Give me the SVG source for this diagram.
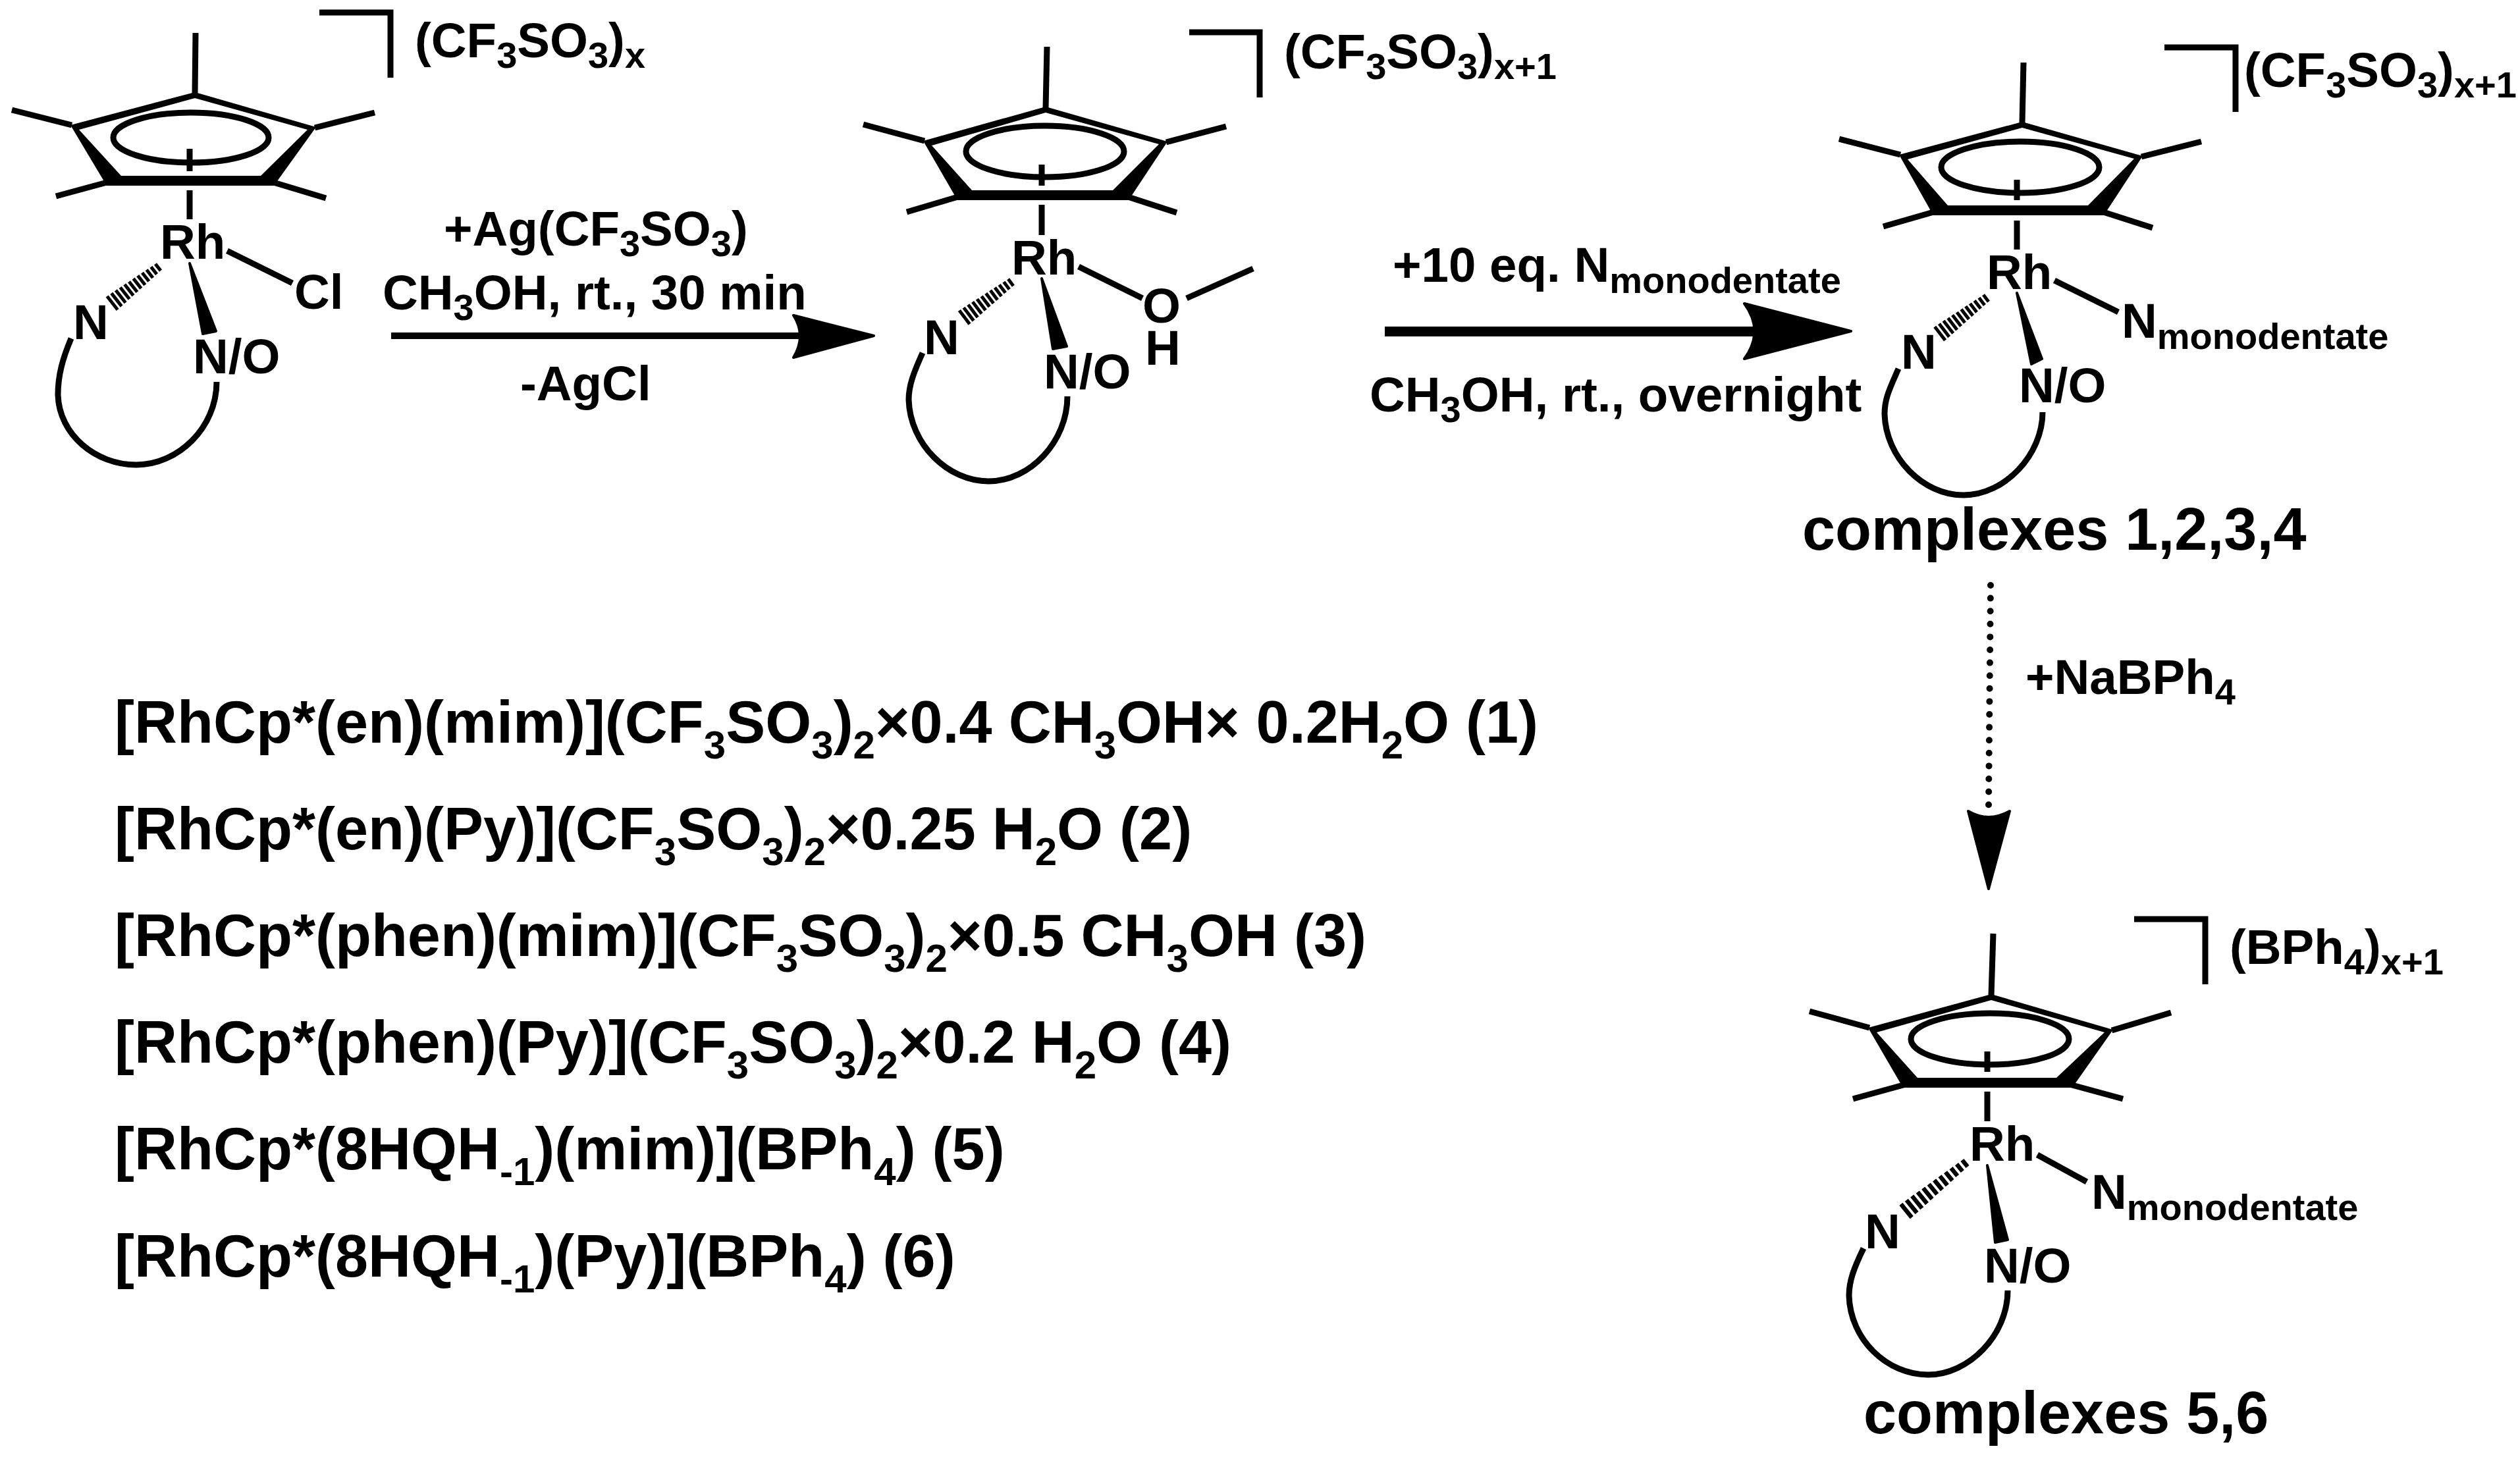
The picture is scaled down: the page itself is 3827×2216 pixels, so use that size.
<svg xmlns="http://www.w3.org/2000/svg" xmlns:xlink="http://www.w3.org/1999/xlink" width="3827" height="2216" viewBox="0 0 3827 2216">
<style>
text{font-family:"Liberation Sans",Arial,sans-serif;font-weight:700;font-size:74.500px;fill:#000}
.l{font-size:90px}
.s{font-size:56px}
.t{font-size:60px}
.b{fill:none;stroke:#000;stroke-width:9}
.r{fill:#000;fill-rule:evenodd;stroke:none}
.e{fill:none;stroke:#000;stroke-width:9}
.f{fill:#000;stroke:#000;stroke-width:4;stroke-linejoin:round}
.h{fill:none;stroke:#000;stroke-width:5}
</style>
<defs>
<path id="hash" class="h" d="M0-6.500V6.500M8-7V7M16-7.700V7.700M24-8.300V8.300M32-9V9M40-9.500V9.500M48-10V10M56-10.700V10.700M64-11.300V11.300M72-12V12M80-12.500V12.500M88-13V13"/>
</defs>
<rect width="3827" height="2216" fill="#fff"/>
<g id="complex-chloride">
<path class="r" d="M296 140L480 193L416 282L162 282L107 190ZM296 149L467 197L396 267L184 267L120 197Z"/>
<path class="b" d="M297 50L296 142M109 190L18 167M478 194L569 171M166 276L85 298M412 276L495 301M288 226V260M288 289V333M345 381L444 430"/>
<ellipse class="e" cx="290" cy="209" rx="118" ry="38"/>
<path class="b" d="M485 19H593V118"/>
<use xlink:href="#hash" href="#hash" transform="translate(240 406) rotate(142)"/>
<polygon class="f" points="288,400 328,503 308,507"/>
<path class="b" d="M108 514C95 545 88 570 88 600C90 660 145 706 207 706C270 706 329 650 329 580"/>
<text x="243" y="393">Rh</text><text x="447" y="469">Cl</text><text x="111" y="515">N</text><text x="293" y="567">N/O</text>
<text x="630" y="87">(CF<tspan class="s" dy="16">3</tspan><tspan dy="-16">SO</tspan><tspan class="s" dy="16">3</tspan><tspan dy="-16">)</tspan><tspan class="s" dy="16">x</tspan></text>
</g>
<g id="complex-methanol">
<path class="r" d="M1588 162L1773 215L1714 304L1454 304L1402 214ZM1588 171L1760 219L1690 289L1476 289L1415 221Z"/>
<path class="b" d="M1590 71L1588 164M1404 214L1311 189M1771 216L1862 192M1458 298L1377 322M1710 298L1787 323M1582 250V282M1582 311V357M1638 405L1735 453M1802 453L1903 408"/>
<ellipse class="e" cx="1587" cy="230" rx="120" ry="39"/>
<path class="b" d="M1806 49H1913V148"/>
<use xlink:href="#hash" href="#hash" transform="translate(1535 429) rotate(143)"/>
<polygon class="f" points="1582,423 1620,526 1599,530"/>
<path class="b" d="M1401 536C1388 565 1380 585 1380 607C1382 675 1440 731 1501 731C1565 731 1621 670 1621 602"/>
<text x="1536" y="417">Rh</text><text x="1735" y="490">O</text><text x="1739" y="554">H</text><text x="1403" y="538">N</text><text x="1585" y="590">N/O</text>
<text x="1950" y="104">(CF<tspan class="s" dy="16">3</tspan><tspan dy="-16">SO</tspan><tspan class="s" dy="16">3</tspan><tspan dy="-16">)</tspan><tspan class="s" dy="16">x+1</tspan></text>
</g>
<g id="complexes-1-4">
<path class="r" d="M3071 185L3254 237L3195 327L2936 327L2884 235ZM3071 194L3241 241L3171 312L2958 312L2897 242Z"/>
<path class="b" d="M3073 95L3071 187M2886 235L2793 211M3252 238L3343 215M2940 321L2860 344M3191 321L3269 346M3063 273V304M3063 335V379M3120 426L3217 474"/>
<ellipse class="e" cx="3068" cy="254" rx="120" ry="39"/>
<path class="b" d="M3287 72H3395V170"/>
<use xlink:href="#hash" href="#hash" transform="translate(3016 453) rotate(142.500)"/>
<polygon class="f" points="3063,445 3101,545 3085,553"/>
<path class="b" d="M2883 560C2870 590 2862 605 2862 629C2864 695 2920 752 2982 752C3045 752 3102 690 3102 626"/>
<text x="3017" y="439">Rh</text><text x="2887" y="560">N</text><text x="3066" y="611">N/O</text>
<text x="3222" y="513">N<tspan class="s" dy="17">monodentate</tspan></text>
<text x="3408" y="132">(CF<tspan class="s" dy="16">3</tspan><tspan dy="-16">SO</tspan><tspan class="s" dy="16">3</tspan><tspan dy="-16">)</tspan><tspan class="s" dy="16">x+1</tspan></text>
<text class="l" x="2737" y="835">complexes 1,2,3,4</text>
</g>
<g id="complexes-5-6">
<path class="r" d="M3024 1510L3209 1564L3147 1652L2890 1652L2837 1561ZM3024 1519L3196 1568L3123 1637L2912 1637L2850 1568Z"/>
<path class="b" d="M3027 1418L3024 1512M2839 1561L2748 1536M3207 1565L3297 1538M2894 1647L2814 1669M3143 1647L3224 1669M3018 1597V1628M3018 1658V1703M3094 1754L3169 1795"/>
<ellipse class="e" cx="3022" cy="1578" rx="120" ry="39"/>
<path class="b" d="M3241 1396H3349V1495"/>
<use xlink:href="#hash" href="#hash" transform="translate(2984 1767) rotate(141) scale(1.300 1)"/>
<polygon class="f" points="3018,1770 3049,1883 3030,1887"/>
<path class="b" d="M2830 1896C2816 1925 2808 1945 2808 1968C2810 2035 2866 2088 2928 2088C2990 2088 3049 2028 3049 1960"/>
<text x="2991" y="1763">Rh</text><text x="2832" y="1896">N</text><text x="3013" y="1948">N/O</text>
<text x="3176" y="1836">N<tspan class="s" dy="17">monodentate</tspan></text>
<text x="3386" y="1464">(BPh<tspan class="s" dy="16">4</tspan><tspan dy="-16">)</tspan><tspan class="s" dy="16">x+1</tspan></text>
<text class="l" x="2830" y="2177">complexes 5,6</text>
</g>
<g id="connectors">
<path d="M594 510H1220" fill="none" stroke="#000" stroke-width="10"/>
<path class="f" d="M1205 479L1327 510L1205 543Q1225 510 1205 479Z"/>
<path d="M2103 503.500H2670" fill="none" stroke="#000" stroke-width="15"/>
<path class="f" d="M2649 461L2811 503L2649 545Q2680 503 2649 461Z"/>
<path d="M3023 889L3020 1224" fill="none" stroke="#000" stroke-width="10" stroke-linecap="round" stroke-dasharray="0 19.600"/>
<path class="f" d="M2989 1232Q3020 1250 3052 1232L3020 1350Z"/>
</g>
<g id="reagents">
<text x="674" y="373">+Ag(CF<tspan class="s" dy="16">3</tspan><tspan dy="-16">SO</tspan><tspan class="s" dy="16">3</tspan><tspan dy="-16">)</tspan></text>
<text x="581" y="470">CH<tspan class="s" dy="16">3</tspan><tspan dy="-16">OH, rt., 30 min</tspan></text>
<text x="790" y="608">-AgCl</text>
<text x="2115" y="428">+10 eq. N<tspan class="s" dy="17">monodentate</tspan></text>
<text x="2080" y="625">CH<tspan class="s" dy="16">3</tspan><tspan dy="-16">OH, rt., overnight</tspan></text>
<text x="3076" y="1054">+NaBPh<tspan class="s" dy="16">4</tspan></text>
</g>
<g id="compound-list">
<text class="l" x="174" y="1128">[RhCp*(en)(mim)](CF<tspan class="t" dy="24">3</tspan><tspan dy="-24">SO</tspan><tspan class="t" dy="24">3</tspan><tspan dy="-24">)</tspan><tspan class="t" dy="24">2</tspan><tspan dy="-24">×0.4 CH</tspan><tspan class="t" dy="24">3</tspan><tspan dy="-24">OH× 0.2H</tspan><tspan class="t" dy="24">2</tspan><tspan dy="-24">O (1)</tspan></text>
<text class="l" x="174" y="1290">[RhCp*(en)(Py)](CF<tspan class="t" dy="24">3</tspan><tspan dy="-24">SO</tspan><tspan class="t" dy="24">3</tspan><tspan dy="-24">)</tspan><tspan class="t" dy="24">2</tspan><tspan dy="-24">×0.25 H</tspan><tspan class="t" dy="24">2</tspan><tspan dy="-24">O (2)</tspan></text>
<text class="l" x="174" y="1452">[RhCp*(phen)(mim)](CF<tspan class="t" dy="24">3</tspan><tspan dy="-24">SO</tspan><tspan class="t" dy="24">3</tspan><tspan dy="-24">)</tspan><tspan class="t" dy="24">2</tspan><tspan dy="-24">×0.5 CH</tspan><tspan class="t" dy="24">3</tspan><tspan dy="-24">OH (3)</tspan></text>
<text class="l" x="174" y="1614">[RhCp*(phen)(Py)](CF<tspan class="t" dy="24">3</tspan><tspan dy="-24">SO</tspan><tspan class="t" dy="24">3</tspan><tspan dy="-24">)</tspan><tspan class="t" dy="24">2</tspan><tspan dy="-24">×0.2 H</tspan><tspan class="t" dy="24">2</tspan><tspan dy="-24">O (4)</tspan></text>
<text class="l" x="174" y="1776">[RhCp*(8HQH<tspan class="t" dy="24">-1</tspan><tspan dy="-24">)(mim)](BPh</tspan><tspan class="t" dy="24">4</tspan><tspan dy="-24">) (5)</tspan></text>
<text class="l" x="174" y="1939">[RhCp*(8HQH<tspan class="t" dy="24">-1</tspan><tspan dy="-24">)(Py)](BPh</tspan><tspan class="t" dy="24">4</tspan><tspan dy="-24">) (6)</tspan></text>
</g>
</svg>
